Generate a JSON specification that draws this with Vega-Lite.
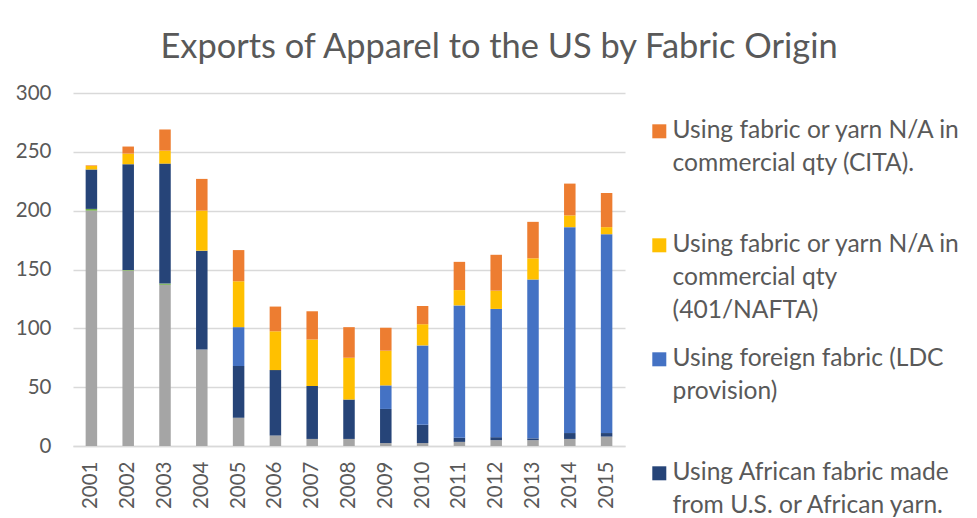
{
  "$schema": "https://vega.github.io/schema/vega-lite/v6.json",
  "width": 552,
  "height": 353,
  "autosize": {"type": "none"},
  "padding": {"left": 73, "top": 93, "right": 352, "bottom": 72},
  "background": "white",
  "title": {
    "text": "Exports of Apparel to the US by Fabric Origin",
    "font": "Lato",
    "fontSize": 34.4,
    "fontWeight": "normal",
    "color": "#595959",
    "anchor": "middle",
    "dx": 150,
    "offset": 18
  },
  "config": {
    "view": {"stroke": null},
    "style": {"guide-label": {"lineHeight": 33}}
  },
  "data": {
    "values": [
      {"year": "2001", "series": "Using U.S. fabric", "k": 1, "v": 200},
      {"year": "2001", "series": "Using regional fabric", "k": 2, "v": 1.5},
      {"year": "2001", "series": "Using African fabric made|from U.S. or African yarn.", "k": 3, "v": 33.5},
      {"year": "2001", "series": "Using fabric or yarn N/A in|commercial qty|(401/NAFTA)", "k": 5, "v": 3},
      {"year": "2001", "series": "Using fabric or yarn N/A in|commercial qty (CITA).", "k": 6, "v": 0.5},
      {"year": "2002", "series": "Using U.S. fabric", "k": 1, "v": 149},
      {"year": "2002", "series": "Using regional fabric", "k": 2, "v": 0.5},
      {"year": "2002", "series": "Using African fabric made|from U.S. or African yarn.", "k": 3, "v": 90},
      {"year": "2002", "series": "Using fabric or yarn N/A in|commercial qty|(401/NAFTA)", "k": 5, "v": 9},
      {"year": "2002", "series": "Using fabric or yarn N/A in|commercial qty (CITA).", "k": 6, "v": 6},
      {"year": "2003", "series": "Using U.S. fabric", "k": 1, "v": 137},
      {"year": "2003", "series": "Using regional fabric", "k": 2, "v": 1},
      {"year": "2003", "series": "Using African fabric made|from U.S. or African yarn.", "k": 3, "v": 102},
      {"year": "2003", "series": "Using fabric or yarn N/A in|commercial qty|(401/NAFTA)", "k": 5, "v": 11},
      {"year": "2003", "series": "Using fabric or yarn N/A in|commercial qty (CITA).", "k": 6, "v": 18},
      {"year": "2004", "series": "Using U.S. fabric", "k": 1, "v": 82},
      {"year": "2004", "series": "Using African fabric made|from U.S. or African yarn.", "k": 3, "v": 84},
      {"year": "2004", "series": "Using fabric or yarn N/A in|commercial qty|(401/NAFTA)", "k": 5, "v": 34},
      {"year": "2004", "series": "Using fabric or yarn N/A in|commercial qty (CITA).", "k": 6, "v": 27},
      {"year": "2005", "series": "Using U.S. fabric", "k": 1, "v": 24},
      {"year": "2005", "series": "Using African fabric made|from U.S. or African yarn.", "k": 3, "v": 44},
      {"year": "2005", "series": "Using foreign fabric (LDC|provision)", "k": 4, "v": 33},
      {"year": "2005", "series": "Using fabric or yarn N/A in|commercial qty|(401/NAFTA)", "k": 5, "v": 39},
      {"year": "2005", "series": "Using fabric or yarn N/A in|commercial qty (CITA).", "k": 6, "v": 26.5},
      {"year": "2006", "series": "Using U.S. fabric", "k": 1, "v": 9},
      {"year": "2006", "series": "Using African fabric made|from U.S. or African yarn.", "k": 3, "v": 55.5},
      {"year": "2006", "series": "Using fabric or yarn N/A in|commercial qty|(401/NAFTA)", "k": 5, "v": 33},
      {"year": "2006", "series": "Using fabric or yarn N/A in|commercial qty (CITA).", "k": 6, "v": 21},
      {"year": "2007", "series": "Using U.S. fabric", "k": 1, "v": 6},
      {"year": "2007", "series": "Using African fabric made|from U.S. or African yarn.", "k": 3, "v": 45},
      {"year": "2007", "series": "Using fabric or yarn N/A in|commercial qty|(401/NAFTA)", "k": 5, "v": 39.5},
      {"year": "2007", "series": "Using fabric or yarn N/A in|commercial qty (CITA).", "k": 6, "v": 24},
      {"year": "2008", "series": "Using U.S. fabric", "k": 1, "v": 6},
      {"year": "2008", "series": "Using African fabric made|from U.S. or African yarn.", "k": 3, "v": 33.5},
      {"year": "2008", "series": "Using fabric or yarn N/A in|commercial qty|(401/NAFTA)", "k": 5, "v": 35.5},
      {"year": "2008", "series": "Using fabric or yarn N/A in|commercial qty (CITA).", "k": 6, "v": 26},
      {"year": "2009", "series": "Using U.S. fabric", "k": 1, "v": 2.5},
      {"year": "2009", "series": "Using African fabric made|from U.S. or African yarn.", "k": 3, "v": 29},
      {"year": "2009", "series": "Using foreign fabric (LDC|provision)", "k": 4, "v": 20},
      {"year": "2009", "series": "Using fabric or yarn N/A in|commercial qty|(401/NAFTA)", "k": 5, "v": 29.5},
      {"year": "2009", "series": "Using fabric or yarn N/A in|commercial qty (CITA).", "k": 6, "v": 19.5},
      {"year": "2010", "series": "Using U.S. fabric", "k": 1, "v": 2.5},
      {"year": "2010", "series": "Using African fabric made|from U.S. or African yarn.", "k": 3, "v": 15.5},
      {"year": "2010", "series": "Using foreign fabric (LDC|provision)", "k": 4, "v": 67.5},
      {"year": "2010", "series": "Using fabric or yarn N/A in|commercial qty|(401/NAFTA)", "k": 5, "v": 18},
      {"year": "2010", "series": "Using fabric or yarn N/A in|commercial qty (CITA).", "k": 6, "v": 15.5},
      {"year": "2011", "series": "Using U.S. fabric", "k": 1, "v": 3.5},
      {"year": "2011", "series": "Using African fabric made|from U.S. or African yarn.", "k": 3, "v": 3.5},
      {"year": "2011", "series": "Using foreign fabric (LDC|provision)", "k": 4, "v": 112.5},
      {"year": "2011", "series": "Using fabric or yarn N/A in|commercial qty|(401/NAFTA)", "k": 5, "v": 13},
      {"year": "2011", "series": "Using fabric or yarn N/A in|commercial qty (CITA).", "k": 6, "v": 24},
      {"year": "2012", "series": "Using U.S. fabric", "k": 1, "v": 5},
      {"year": "2012", "series": "Using African fabric made|from U.S. or African yarn.", "k": 3, "v": 2.5},
      {"year": "2012", "series": "Using foreign fabric (LDC|provision)", "k": 4, "v": 109},
      {"year": "2012", "series": "Using fabric or yarn N/A in|commercial qty|(401/NAFTA)", "k": 5, "v": 15.5},
      {"year": "2012", "series": "Using fabric or yarn N/A in|commercial qty (CITA).", "k": 6, "v": 30.5},
      {"year": "2013", "series": "Using U.S. fabric", "k": 1, "v": 5},
      {"year": "2013", "series": "Using African fabric made|from U.S. or African yarn.", "k": 3, "v": 1.5},
      {"year": "2013", "series": "Using foreign fabric (LDC|provision)", "k": 4, "v": 135},
      {"year": "2013", "series": "Using fabric or yarn N/A in|commercial qty|(401/NAFTA)", "k": 5, "v": 18},
      {"year": "2013", "series": "Using fabric or yarn N/A in|commercial qty (CITA).", "k": 6, "v": 31},
      {"year": "2014", "series": "Using U.S. fabric", "k": 1, "v": 6},
      {"year": "2014", "series": "Using African fabric made|from U.S. or African yarn.", "k": 3, "v": 5},
      {"year": "2014", "series": "Using foreign fabric (LDC|provision)", "k": 4, "v": 175},
      {"year": "2014", "series": "Using fabric or yarn N/A in|commercial qty|(401/NAFTA)", "k": 5, "v": 10},
      {"year": "2014", "series": "Using fabric or yarn N/A in|commercial qty (CITA).", "k": 6, "v": 27},
      {"year": "2015", "series": "Using U.S. fabric", "k": 1, "v": 8},
      {"year": "2015", "series": "Using African fabric made|from U.S. or African yarn.", "k": 3, "v": 3},
      {"year": "2015", "series": "Using foreign fabric (LDC|provision)", "k": 4, "v": 169},
      {"year": "2015", "series": "Using fabric or yarn N/A in|commercial qty|(401/NAFTA)", "k": 5, "v": 6},
      {"year": "2015", "series": "Using fabric or yarn N/A in|commercial qty (CITA).", "k": 6, "v": 29}
    ]
  },
  "mark": {"type": "bar", "size": 11.5},
  "encoding": {
    "x": {
      "field": "year",
      "type": "ordinal",
      "scale": {"paddingInner": 0, "paddingOuter": 0},
      "axis": {
        "title": null,
        "labelAngle": -90,
        "labelFont": "Lato",
        "labelFontSize": 20.5,
        "labelColor": "#595959",
        "labelPadding": 15,
        "ticks": false,
        "domainColor": "#D9D9D9",
        "domainWidth": 1.5,
        "grid": false
      }
    },
    "y": {
      "field": "v",
      "type": "quantitative",
      "stack": "zero",
      "scale": {"domain": [0, 300], "nice": false},
      "axis": {
        "title": null,
        "values": [0, 50, 100, 150, 200, 250, 300],
        "labelFont": "Lato",
        "labelFontSize": 20.5,
        "labelColor": "#595959",
        "labelPadding": 22,
        "ticks": false,
        "domain": false,
        "gridColor": "#D9D9D9",
        "gridWidth": 1.5
      }
    },
    "color": {
      "field": "series",
      "type": "nominal",
      "scale": {
        "domain": [
          "Using U.S. fabric",
          "Using regional fabric",
          "Using African fabric made|from U.S. or African yarn.",
          "Using foreign fabric (LDC|provision)",
          "Using fabric or yarn N/A in|commercial qty|(401/NAFTA)",
          "Using fabric or yarn N/A in|commercial qty (CITA)."
        ],
        "range": ["#A5A5A5", "#70AD47", "#264478", "#4472C4", "#FFC000", "#ED7D31"]
      },
      "legend": {
        "title": null,
        "orient": "none",
        "legendX": 574,
        "legendY": 26,
        "gridAlign": "all",
        "values": [
          "Using fabric or yarn N/A in|commercial qty (CITA).",
          "Using fabric or yarn N/A in|commercial qty|(401/NAFTA)",
          "Using foreign fabric (LDC|provision)",
          "Using African fabric made|from U.S. or African yarn."
        ],
        "labelExpr": "split(datum.label, '|')",
        "symbolType": "square",
        "symbolSize": 196,
        "symbolStrokeWidth": 0,
        "labelFont": "Lato",
        "labelFontSize": 24.6,
        "labelColor": "#595959",
        "labelLimit": 400,
        "labelOffset": 1,
        "rowPadding": 23
      }
    },
    "order": {"field": "k", "type": "quantitative"}
  }
}
